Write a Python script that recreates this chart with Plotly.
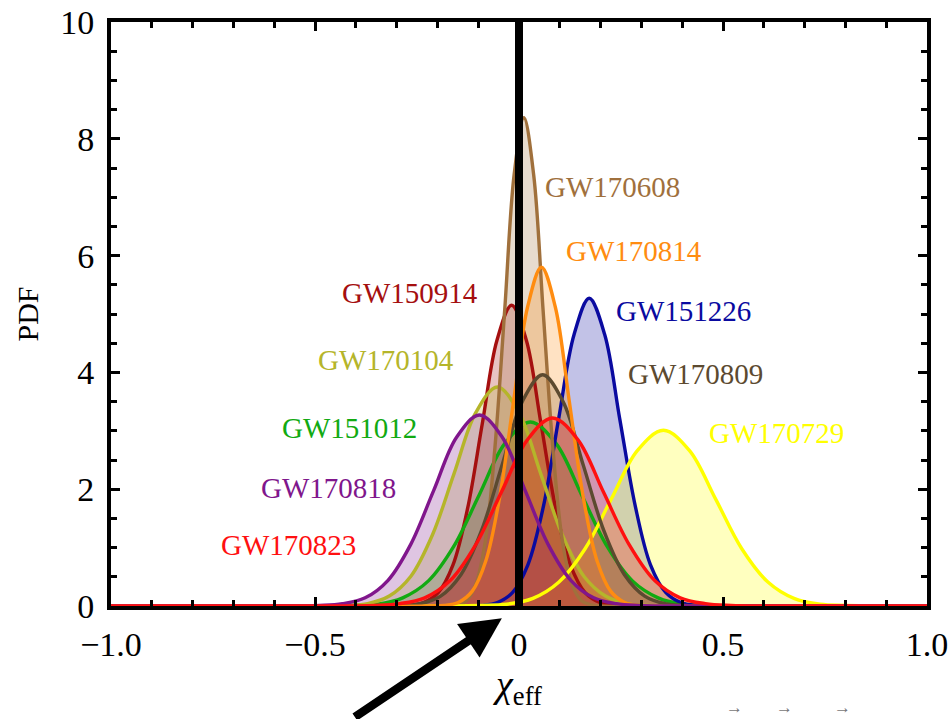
import plotly.graph_objects as go

# ---- posterior PDFs of chi_eff for each event (sampled points) ----
chi_150914 = [-1.0, -0.306, -0.270, -0.234, -0.198, -0.162, -0.126, -0.090, -0.054, -0.018, 0.018, 0.054, 0.090, 0.126, 0.162, 0.198, 0.234, 0.270, 1.0]
pdf_150914 = [0, 0, 0.01, 0.06, 0.23, 0.70, 1.67, 3.12, 4.55, 5.15, 4.55, 3.12, 1.67, 0.70, 0.23, 0.06, 0.01, 0, 0]

chi_151012 = [-1.0, -0.472, -0.410, -0.347, -0.285, -0.222, -0.160, -0.097, -0.035, 0.028, 0.091, 0.153, 0.216, 0.278, 0.341, 0.403, 0.466, 0.528, 1.0]
pdf_151012 = [0, 0, 0.01, 0.03, 0.14, 0.43, 1.02, 1.91, 2.78, 3.15, 2.78, 1.91, 1.02, 0.43, 0.14, 0.03, 0.01, 0, 0]

chi_151226 = [-1.0, -0.128, -0.091, -0.053, -0.016, 0.022, 0.060, 0.097, 0.135, 0.172, 0.210, 0.247, 0.285, 0.322, 0.360, 0.397, 0.435, 0.472, 1.0]
pdf_151226 = [0, 0, 0.01, 0.06, 0.23, 0.71, 1.71, 3.20, 4.65, 5.27, 4.65, 3.20, 1.71, 0.71, 0.23, 0.06, 0.01, 0, 0]

chi_170104 = [-1.0, -0.477, -0.424, -0.371, -0.318, -0.265, -0.212, -0.159, -0.106, -0.053, 0.000, 0.053, 0.106, 0.159, 0.212, 0.265, 0.318, 0.371, 1.0]
pdf_170104 = [0, 0, 0.01, 0.04, 0.17, 0.51, 1.22, 2.27, 3.31, 3.75, 3.31, 2.27, 1.22, 0.51, 0.17, 0.04, 0.01, 0, 0]

chi_170608 = [-1.0, -0.176, -0.153, -0.129, -0.106, -0.082, -0.059, -0.035, -0.012, 0.012, 0.036, 0.059, 0.083, 0.106, 0.130, 0.153, 0.177, 0.200, 1.0]
pdf_170608 = [0, 0, 0.02, 0.09, 0.37, 1.13, 2.71, 5.07, 7.38, 8.36, 7.38, 5.07, 2.71, 1.13, 0.37, 0.09, 0.02, 0, 0]

chi_170729 = [-1.0, -0.158, -0.094, -0.030, 0.034, 0.098, 0.162, 0.226, 0.290, 0.354, 0.418, 0.482, 0.546, 0.610, 0.674, 0.738, 0.802, 0.866, 1.0]
pdf_170729 = [0, 0, 0.01, 0.03, 0.13, 0.41, 0.98, 1.83, 2.66, 3.01, 2.66, 1.83, 0.98, 0.41, 0.13, 0.03, 0.01, 0, 0]

chi_170809 = [-1.0, -0.342, -0.292, -0.242, -0.192, -0.142, -0.092, -0.042, 0.008, 0.058, 0.108, 0.158, 0.208, 0.258, 0.308, 0.358, 0.408, 0.458, 1.0]
pdf_170809 = [0, 0, 0.01, 0.04, 0.17, 0.54, 1.29, 2.40, 3.50, 3.96, 3.50, 2.40, 1.29, 0.54, 0.17, 0.04, 0.01, 0, 0]

chi_170814 = [-1.0, -0.217, -0.183, -0.149, -0.115, -0.081, -0.047, -0.013, 0.021, 0.055, 0.089, 0.123, 0.157, 0.191, 0.225, 0.259, 0.293, 0.327, 1.0]
pdf_170814 = [0, 0, 0.01, 0.06, 0.25, 0.78, 1.88, 3.52, 5.12, 5.80, 5.12, 3.52, 1.88, 0.78, 0.25, 0.06, 0.01, 0, 0]

chi_170818 = [-1.0, -0.545, -0.489, -0.433, -0.377, -0.321, -0.265, -0.209, -0.153, -0.097, -0.041, 0.015, 0.071, 0.127, 0.183, 0.239, 0.295, 0.351, 1.0]
pdf_170818 = [0, 0, 0.01, 0.04, 0.14, 0.44, 1.06, 1.98, 2.89, 3.27, 2.89, 1.98, 1.06, 0.44, 0.14, 0.04, 0.01, 0, 0]

chi_170823 = [-1.0, -0.418, -0.356, -0.293, -0.231, -0.168, -0.106, -0.043, 0.020, 0.082, 0.145, 0.207, 0.270, 0.332, 0.395, 0.457, 0.520, 0.582, 1.0]
pdf_170823 = [0, 0, 0.01, 0.04, 0.14, 0.44, 1.05, 1.95, 2.84, 3.22, 2.84, 1.95, 1.05, 0.44, 0.14, 0.04, 0.01, 0, 0]

# event names, colours and label anchor positions (chi_eff, PDF)
event_names = ["GW150914", "GW151012", "GW151226", "GW170104", "GW170608",
               "GW170729", "GW170809", "GW170814", "GW170818", "GW170823"]
event_colors = [(165, 15, 15), (18, 170, 18), (10, 10, 160), (181, 181, 42), (160, 112, 60),
                (255, 255, 0), (92, 74, 48), (255, 140, 16), (128, 22, 140), (255, 16, 16)]
label_x = [-0.266, -0.416, 0.403, -0.325, 0.228, 0.631, 0.433, 0.281, -0.467, -0.565]
label_y = [5.36, 3.05, 5.05, 4.21, 7.17, 2.96, 3.97, 6.08, 2.02, 1.04]

x_tick_vals = [-1.0, -0.5, 0.0, 0.5, 1.0]
x_tick_text = ["\u22121.0", "\u22120.5", "0", "0.5", "1.0"]
y_tick_vals = [0, 2, 4, 6, 8, 10]
ZERO_SPIN = 0.0

curves = [
    (chi_150914, pdf_150914), (chi_151012, pdf_151012), (chi_151226, pdf_151226),
    (chi_170104, pdf_170104), (chi_170608, pdf_170608), (chi_170729, pdf_170729),
    (chi_170809, pdf_170809), (chi_170814, pdf_170814), (chi_170818, pdf_170818),
    (chi_170823, pdf_170823),
]

SERIF = "Liberation Serif, Times New Roman, serif"

fig = go.Figure()

# translucent fills first so every outline stays visible on top
for (xs, ys), (r, g, b) in zip(curves, event_colors):
    fig.add_trace(go.Scatter(
        x=xs, y=ys, mode="lines", line=dict(width=0, shape="spline", color=f"rgba({r},{g},{b},0)"),
        fill="tozeroy", fillcolor=f"rgba({r},{g},{b},0.25)", hoverinfo="skip", showlegend=False,
    ))

for (xs, ys), (r, g, b), name in zip(curves, event_colors, event_names):
    fig.add_trace(go.Scatter(
        x=xs, y=ys, mode="lines", name=name,
        line=dict(width=3.4, shape="spline", color=f"rgb({r},{g},{b})"),
        showlegend=False,
    ))

# event labels
for name, (r, g, b), lx, ly in zip(event_names, event_colors, label_x, label_y):
    fig.add_annotation(x=lx, y=ly, text=name, showarrow=False,
                       font=dict(family=SERIF, size=29, color=f"rgb({r},{g},{b})"))

# zero-spin reference line
fig.add_shape(type="line", x0=ZERO_SPIN, x1=ZERO_SPIN, y0=0, y1=10, xref="x", yref="y",
              line=dict(color="black", width=8), layer="above")

# arrow pointing at chi_eff = 0 from below the axis
fig.add_annotation(x=0.479, y=-0.021, xref="paper", yref="paper", ax=-150, ay=113,
                   text=" ", showarrow=True, arrowhead=2, arrowsize=0.95, arrowwidth=8.5,
                   arrowcolor="black")

# small vector arrows along the bottom edge
for px in [0.777, 0.838, 0.909]:
    fig.add_annotation(x=px, y=-0.1935, xref="paper", yref="paper", yanchor="bottom",
                       text="\u2192", showarrow=False,
                       font=dict(family=SERIF, size=17, color="#777777"))

axis_common = dict(
    showline=True, linecolor="black", linewidth=4, mirror="ticks",
    ticks="inside", tickcolor="black", tickwidth=3, ticklen=9,
    showgrid=False, zeroline=False, automargin=False,
    tickfont=dict(family=SERIF, size=34, color="black"),
)

fig.update_xaxes(
    range=[-1, 1], tickvals=x_tick_vals, ticktext=x_tick_text,
    minor=dict(ticks="inside", dtick=0.1, ticklen=6, tickwidth=3, tickcolor="black"),
    ticklabelstandoff=5,
    title=dict(text="<i>\u03c7</i><sub>eff</sub>", font=dict(family=SERIF, size=38, color="black"), standoff=0),
    **axis_common,
)
fig.update_yaxes(
    range=[0, 10], tickvals=y_tick_vals,
    minor=dict(ticks="inside", dtick=0.5, ticklen=6, tickwidth=3, tickcolor="black"),
    ticklabelstandoff=6,
    title=dict(text="PDF", font=dict(family=SERIF, size=30, color="black"), standoff=14),
    **axis_common,
)

fig.update_layout(
    width=949, height=719,
    margin=dict(l=111, r=22, t=22, b=113),
    paper_bgcolor="white", plot_bgcolor="white",
)

fig.write_html("out.html")
